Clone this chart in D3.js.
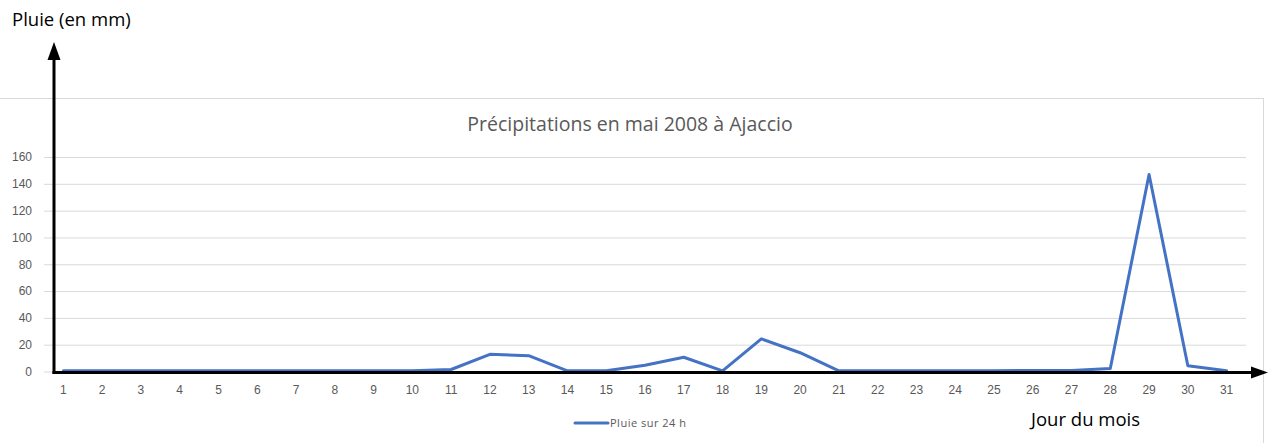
<!DOCTYPE html>
<html>
<head>
<meta charset="utf-8">
<script src="https://cdn.jsdelivr.net/npm/d3@7"></script>
<style>
  body { margin: 0; background: #fff; }
  svg { display: block; font-family: "Open Sans", sans-serif; }
</style>
</head>
<body>
<div id="chart"></div>
<script>
// Data
const days = d3.range(1, 32).map(String);
const rain = [0.5, 0.5, 0.5, 0.5, 0.5, 0.5, 0.5, 0.5, 0.5, 0.6,
              1.5, 12.8, 11.8, 0.5, 0.5, 4.6, 10.6, 0.5, 24.4, 14,
              0.5, 0.5, 0.5, 0.6, 0.6, 0.7, 0.8, 2.2, 147, 4.3, 0.5];
const yTicks = [0, 20, 40, 60, 80, 100, 120, 140, 160];

const chartTitle = "Précipitations en mai 2008 à Ajaccio";
const seriesName = "Pluie sur 24 h";
const yLabel = "Pluie (en mm)";
const xLabel = "Jour du mois";

const W = 1272, H = 443;

const svg = d3.select("#chart").append("svg")
    .attr("width", W)
    .attr("height", H);

// chart area border (left and bottom are cut off in the picture)
svg.append("rect")
    .attr("x", -2)
    .attr("y", 98.5)
    .attr("width", 1265.5)
    .attr("height", 400)
    .attr("fill", "none")
    .attr("stroke", "#d9d9d9");

// Scales
const x = d3.scaleBand()
    .domain(days)
    .range([44, 1246]);

const y = d3.scaleLinear()
    .domain([0, 160])
    .range([371.5, 157]);

const cx = d => x(d) + x.bandwidth() / 2;

// Gridlines + y tick labels
const yAxis = svg.append("g")
    .attr("transform", "translate(44,0)")
    .call(d3.axisLeft(y).tickValues(yTicks).tickSize(-1202).tickPadding(12));
yAxis.select(".domain").remove();
yAxis.selectAll(".tick line").attr("stroke", "#d9d9d9");
yAxis.selectAll(".tick text")
    .attr("fill", "#595959")
    .style("font-size", "12px");

// x tick labels
const xAxis = svg.append("g")
    .attr("transform", "translate(0,379)")
    .call(d3.axisBottom(x).tickSize(0).tickPadding(6));
xAxis.select(".domain").remove();
xAxis.selectAll(".tick text")
    .attr("fill", "#595959")
    .style("font-size", "12px");

// Title
svg.append("text")
    .attr("x", 630)
    .attr("y", 131)
    .attr("text-anchor", "middle")
    .attr("fill", "#595959")
    .style("font-size", "19.5px")
    .text(chartTitle);

// Data line
const line = d3.line()
    .x((d, i) => cx(days[i]))
    .y(d => y(d));

svg.append("path")
    .datum(rain)
    .attr("fill", "none")
    .attr("stroke", "#4472C4")
    .attr("stroke-width", 3)
    .attr("stroke-linejoin", "round")
    .attr("stroke-linecap", "round")
    .attr("d", line);

// Black arrow axes drawn on top
const axisX = 54;
const axisY = y(0) + 1;

svg.append("line")
    .attr("x1", axisX).attr("y1", axisY + 1.5)
    .attr("x2", axisX).attr("y2", 58)
    .attr("stroke", "#000")
    .attr("stroke-width", 3);
svg.append("path")
    .attr("d", `M${axisX},42 L${axisX - 6.5},60 L${axisX + 6.5},60 Z`)
    .attr("fill", "#000");

svg.append("line")
    .attr("x1", axisX - 1.5).attr("y1", axisY)
    .attr("x2", 1253).attr("y2", axisY)
    .attr("stroke", "#000")
    .attr("stroke-width", 3);
svg.append("path")
    .attr("d", `M1268,${axisY} L1251,${axisY - 6} L1251,${axisY + 6} Z`)
    .attr("fill", "#000");

// Axis labels
svg.append("text")
    .attr("x", 12)
    .attr("y", 26)
    .attr("fill", "#000")
    .style("font-size", "18.5px")
    .text(yLabel);

svg.append("text")
    .attr("x", 1031)
    .attr("y", 426)
    .attr("fill", "#000")
    .style("font-size", "18.5px")
    .text(xLabel);

// Legend
svg.append("line")
    .attr("x1", 575).attr("y1", 423)
    .attr("x2", 608).attr("y2", 423)
    .attr("stroke", "#4472C4")
    .attr("stroke-width", 3)
    .attr("stroke-linecap", "round");
svg.append("text")
    .attr("x", 610)
    .attr("y", 427)
    .attr("fill", "#595959")
    .style("font-size", "11px")
    .style("letter-spacing", "0.5px")
    .text(seriesName);
</script>
</body>
</html>
